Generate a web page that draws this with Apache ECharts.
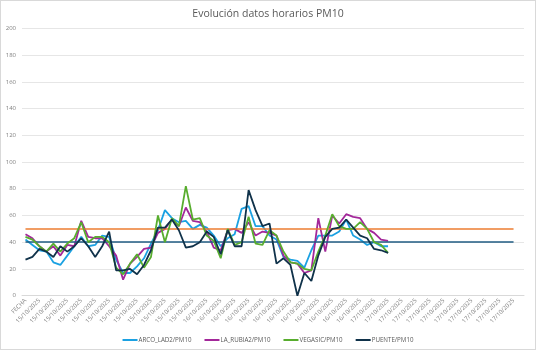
<!DOCTYPE html>
<html>
<head>
<meta charset="utf-8">
<script src="https://cdn.jsdelivr.net/npm/echarts@6/dist/echarts.min.js"></script>
<style>
html,body{margin:0;padding:0;background:#fff;}
#chart{width:536px;height:350px;box-sizing:border-box;border:1px solid #d9d9d9;}
</style>
</head>
<body>
<div id="chart"></div>
<script>
const categories = ["FECHA",
"15/10/2025","15/10/2025","15/10/2025","15/10/2025","15/10/2025","15/10/2025","15/10/2025","15/10/2025",
"15/10/2025","15/10/2025","15/10/2025","15/10/2025","15/10/2025","15/10/2025","15/10/2025","15/10/2025",
"15/10/2025","15/10/2025","15/10/2025","15/10/2025","15/10/2025","15/10/2025","15/10/2025","15/10/2025",
"16/10/2025","16/10/2025","16/10/2025","16/10/2025","16/10/2025","16/10/2025","16/10/2025","16/10/2025",
"16/10/2025","16/10/2025","16/10/2025","16/10/2025","16/10/2025","16/10/2025","16/10/2025","16/10/2025",
"16/10/2025","16/10/2025","16/10/2025","16/10/2025","16/10/2025","16/10/2025","16/10/2025","16/10/2025",
"17/10/2025","17/10/2025","17/10/2025","17/10/2025","17/10/2025","17/10/2025","17/10/2025","17/10/2025",
"17/10/2025","17/10/2025","17/10/2025","17/10/2025","17/10/2025","17/10/2025","17/10/2025","17/10/2025",
"17/10/2025","17/10/2025","17/10/2025","17/10/2025","17/10/2025","17/10/2025","17/10/2025"];

const arco   = [42,38,34,33,25,23,30,37,44,37,38,45,44,27,17,17,22,28,39,49,64,58,55,56,50,53,51,45,37,43,46,65,67,52,52,45,42,29,27,26,21,34,45,45,45,48,57,45,42,38,40,37,37];
const rubia  = [46,43,37,33,37,30,38,37,56,44,43,43,37,30,12,24,29,35,36,47,50,57,52,66,56,55,48,36,34,49,50,47,55,45,48,47,45,30,25,24,17,19,58,33,60,54,61,59,58,50,47,42,41];
const vegasic= [44,42,37,33,39,33,39,43,55,40,44,44,40,21,16,24,31,21,29,60,40,58,52,82,57,58,45,41,28,50,38,40,59,39,38,49,45,33,25,24,20,19,33,45,61,52,50,50,55,50,40,38,32];
const puente = [27,29,35,33,29,37,33,37,43,37,29,37,48,19,19,20,16,23,34,51,51,57,49,36,37,40,48,44,31,49,37,37,79,64,52,54,24,28,23,0,17,11,30,44,50,51,57,51,45,43,35,34,32];

const seriesNames = ["ARCO_LAD2/PM10","LA_RUBIA2/PM10","VEGASIC/PM10","PUENTE/PM10"];
const seriesColors = ["#1ba1e2","#a3289a","#58ad2e","#10324a"];
const limitHigh = 50;
const limitLow = 40;
const limitFirstIndex = 0;
const limitLastIndex = 70;
const yTicks = [0,20,40,60,80,100,120,140,160,180,200];

const chart = echarts.init(document.getElementById('chart'), null, {renderer:'canvas'});
const values = [arco, rubia, vegasic, puente];
const series = values.map((d,i)=>({
  name: seriesNames[i],
  type: 'line',
  data: d,
  symbol: 'none',
  smooth: false,
  lineStyle: {width: 1.8, color: seriesColors[i]},
  itemStyle: {color: seriesColors[i]},
  z: 3 + i
}));
series.push({
  name: 'limits',
  type: 'line',
  data: [],
  symbol: 'none',
  markLine: {
    silent: true,
    symbol: ['none','none'],
    label: {show:false},
    data: [
      [{xAxis: limitFirstIndex, yAxis: limitHigh, lineStyle:{color:'#ed7d31', width:1.6, type:'solid'}},
       {xAxis: limitLastIndex, yAxis: limitHigh}],
      [{xAxis: limitFirstIndex, yAxis: limitLow, lineStyle:{color:'#1f5b82', width:1.6, type:'solid'}},
       {xAxis: limitLastIndex, yAxis: limitLow}]
    ]
  },
  z: 2
});

chart.setOption({
  animation: false,
  textStyle: {fontFamily: 'Open Sans, Noto Sans, sans-serif'},
  title: {
    text: 'Evolución datos horarios PM10',
    left: 'center', top: 3,
    textStyle: {fontSize: 10.5, fontWeight: 'normal', color: '#595959', fontFamily: 'Open Sans, Noto Sans, sans-serif'}
  },
  grid: {left: 21, right: 11, top: 27.4, bottom: 53.3, containLabel: false},
  legend: {
    data: seriesNames,
    bottom: 1,
    left: 'center',
    icon: 'rect',
    itemWidth: 15,
    itemHeight: 2,
    itemGap: 13,
    textStyle: {fontSize: 6.2, color: '#595959', padding: [0,0,0,-4]}
  },
  xAxis: {
    type: 'category',
    data: categories,
    boundaryGap: true,
    axisLine: {show: true, lineStyle: {color: '#d9d9d9'}},
    axisTick: {show: false},
    axisLabel: {interval: 1, rotate: 45, fontSize: 6, color: '#7f7f7f', margin: 4}
  },
  yAxis: {
    type: 'value',
    min: yTicks[0], max: yTicks[yTicks.length-1], interval: 20,
    axisLine: {show: false},
    axisTick: {show: false},
    axisLabel: {fontSize: 6, color: '#7f7f7f', margin: 6},
    splitLine: {lineStyle: {color: '#e6e6e6', width: 1}}
  },
  series: series
});
</script>
</body>
</html>
